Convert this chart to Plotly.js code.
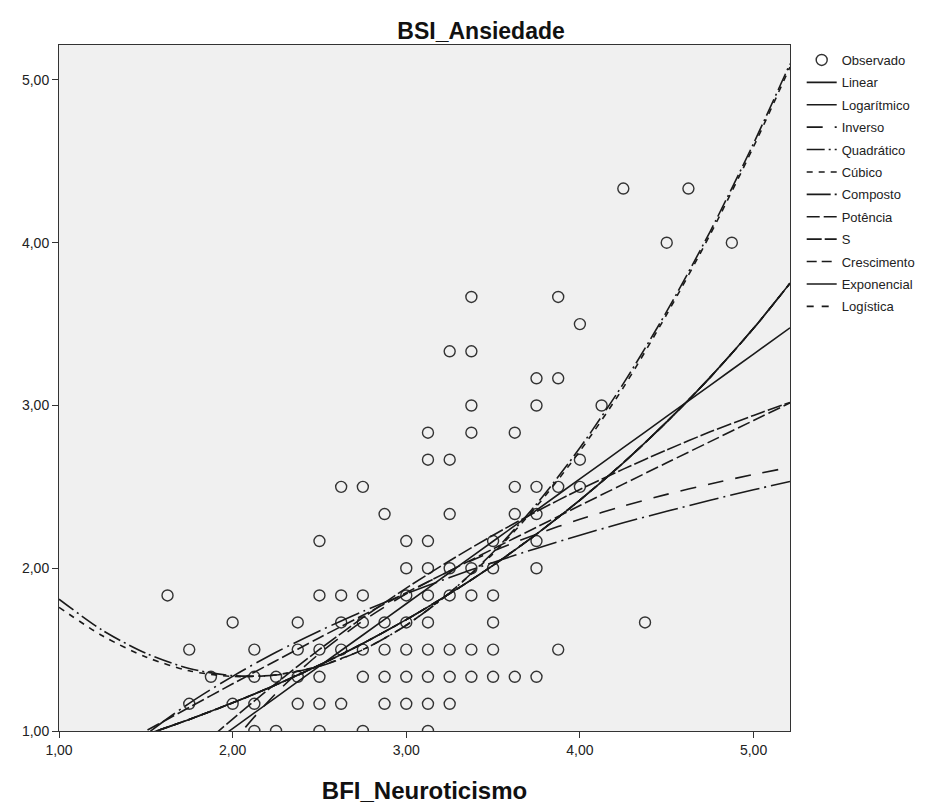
<!DOCTYPE html>
<html>
<head>
<meta charset="utf-8">
<script src="https://cdn.plot.ly/plotly-3.0.1.min.js"></script>
<style>html,body{margin:0;padding:0;background:#fff;}#chart{width:947px;height:807px;}</style>
</head>
<body>
<div id="chart"></div>
<script>
// Observed points: BFI_Neuroticismo (x) vs BSI_Ansiedade (y)
const obsX = [
  1.625,
  1.75, 1.75,
  1.875,
  2.0, 2.0,
  2.125, 2.125, 2.125, 2.125,
  2.25, 2.25,
  2.375, 2.375, 2.375, 2.375,
  2.5, 2.5, 2.5, 2.5, 2.5, 2.5,
  2.625, 2.625, 2.625, 2.625, 2.625,
  2.75, 2.75, 2.75, 2.75, 2.75, 2.75,
  2.875, 2.875, 2.875, 2.875, 2.875,
  3.0, 3.0, 3.0, 3.0, 3.0, 3.0, 3.0,
  3.125, 3.125, 3.125, 3.125, 3.125, 3.125, 3.125, 3.125, 3.125, 3.125,
  3.25, 3.25, 3.25, 3.25, 3.25, 3.25, 3.25, 3.25,
  3.375, 3.375, 3.375, 3.375, 3.375, 3.375, 3.375, 3.375,
  3.5, 3.5, 3.5, 3.5, 3.5, 3.5,
  3.625, 3.625, 3.625, 3.625,
  3.75, 3.75, 3.75, 3.75, 3.75, 3.75, 3.75,
  3.875, 3.875, 3.875, 3.875,
  4.0, 4.0, 4.0,
  4.125, 4.25, 4.375, 4.5, 4.625, 4.875
];
const obsY = [
  1.833,
  1.5, 1.167,
  1.333,
  1.667, 1.167,
  1.5, 1.333, 1.167, 1.0,
  1.333, 1.0,
  1.667, 1.5, 1.333, 1.167,
  2.167, 1.833, 1.5, 1.333, 1.167, 1.0,
  2.5, 1.833, 1.667, 1.5, 1.167,
  2.5, 1.833, 1.667, 1.5, 1.333, 1.0,
  2.333, 1.667, 1.5, 1.333, 1.167,
  2.167, 2.0, 1.833, 1.667, 1.5, 1.333, 1.167,
  2.833, 2.667, 2.167, 2.0, 1.833, 1.667, 1.5, 1.333, 1.167, 1.0,
  3.333, 2.667, 2.333, 2.0, 1.833, 1.5, 1.333, 1.167,
  3.667, 3.333, 3.0, 2.833, 2.0, 1.833, 1.5, 1.333,
  2.167, 2.0, 1.833, 1.667, 1.5, 1.333,
  2.833, 2.5, 2.333, 1.333,
  3.167, 3.0, 2.5, 2.333, 2.167, 2.0, 1.333,
  3.667, 3.167, 2.5, 1.5,
  3.5, 2.667, 2.5,
  3.0, 4.333, 1.667, 4.0, 4.333, 4.0
];

const fitX = [1.0, 1.25, 1.5, 1.75, 2.0, 2.25, 2.5, 2.75, 3.0, 3.25, 3.5, 3.75, 4.0, 4.25, 4.5, 4.75, 5.0, 5.21];
const linearY      = [0.248, 0.440, 0.632, 0.823, 1.015, 1.207, 1.399, 1.590, 1.782, 1.974, 2.166, 2.357, 2.549, 2.741, 2.933, 3.124, 3.316, 3.477];
const logY         = [0.470, 0.749, 0.977, 1.170, 1.336, 1.484, 1.615, 1.735, 1.843, 1.943, 2.036, 2.122, 2.203, 2.279, 2.350, 2.418, 2.482, 2.533];
const inverseY     = [-1.82, -0.72, 0.009, 0.533, 0.926, 1.232, 1.476, 1.676, 1.843, 1.984, 2.105, 2.209, 2.301, 2.382, 2.454, 2.518, 2.576, 2.620];
const quadY        = [1.81, 1.619, 1.478, 1.384, 1.34, 1.344, 1.398, 1.499, 1.65, 1.849, 2.098, 2.394, 2.74, 3.134, 3.578, 4.069, 4.61, 5.10];
const cubicY       = [1.76, 1.585, 1.455, 1.37, 1.335, 1.345, 1.40, 1.50, 1.65, 1.85, 2.09, 2.38, 2.72, 3.11, 3.56, 4.05, 4.59, 5.08];
const compoundY    = [0.817, 0.894, 0.978, 1.071, 1.173, 1.284, 1.405, 1.538, 1.684, 1.844, 2.018, 2.210, 2.419, 2.648, 2.899, 3.173, 3.474, 3.751];
const powerY       = [0.697, 0.850, 1.000, 1.145, 1.290, 1.432, 1.573, 1.711, 1.850, 1.984, 2.119, 2.252, 2.385, 2.517, 2.648, 2.778, 2.908, 3.016];
const sY           = [0.200, 0.391, 0.613, 0.844, 1.073, 1.293, 1.501, 1.696, 1.878, 2.046, 2.203, 2.349, 2.484, 2.609, 2.727, 2.838, 2.939, 3.019];
const growthY      = compoundY;
const exponentialY = compoundY;
const logisticY    = compoundY;

const lineColor = '#1a1a1a';
function fit(name, y, dash, w) {
  return {x: fitX, y: y, name: name, type: 'scatter', mode: 'lines',
          line: {color: lineColor, width: w || 1.6, dash: dash, shape: 'spline', smoothing: 0.8},
          legendgroup: name, hoverinfo: 'skip'};
}

const traces = [
  {x: obsX, y: obsY, name: 'Observado', type: 'scatter', mode: 'markers',
   marker: {symbol: 'circle-open', size: 11, color: '#333', line: {width: 1.4, color: '#333'}},
   legendgroup: 'Observado'},
  fit('Linear', linearY, 'solid'),
  fit('Logarítmico', logY, '30px,5px,2px,5px'),
  fit('Inverso', inverseY, '16px,12px'),
  fit('Quadrático', quadY, '18px,4px,2px,4px'),
  fit('Cúbico', cubicY, '6px,6px'),
  fit('Composto', compoundY, '24px,4px,2px,4px'),
  fit('Potência', powerY, '13px,4px'),
  fit('S', sY, '15px,3px'),
  fit('Crescimento', growthY, '10px,5px'),
  fit('Exponencial', exponentialY, 'solid'),
  fit('Logística', logisticY, '7px,8px')
];

const layout = {
  width: 947, height: 807,
  margin: {l: 59, r: 157, t: 45, b: 76, pad: 0},
  paper_bgcolor: '#ffffff',
  plot_bgcolor: '#f0f0f0',
  separators: ',.',
  font: {family: 'Liberation Sans, Arial, sans-serif', size: 13, color: '#222'},
  title: {text: '<b>BSI_Ansiedade</b>', x: 0.508, xanchor: 'center', y: 0.962, yanchor: 'middle',
          font: {family: 'Liberation Sans, Arial, sans-serif', size: 23, color: '#111'}},
  xaxis: {range: [1, 5.21], tickvals: [1, 2, 3, 4, 5], tickformat: '.2f',
          showgrid: false, zeroline: false, showline: true, mirror: true, linecolor: '#333', linewidth: 1,
          ticks: 'outside', ticklen: 6, tickcolor: '#333', tickfont: {size: 14, color: '#222'},
          title: {text: '<b>BFI_Neuroticismo</b>', standoff: 25, font: {size: 24, color: '#111'}}},
  yaxis: {range: [1, 5.215], tickvals: [1, 2, 3, 4, 5], tickformat: '.2f',
          showgrid: false, zeroline: false, showline: true, mirror: true, linecolor: '#333', linewidth: 1,
          ticks: 'outside', ticklen: 6, tickcolor: '#333', tickfont: {size: 14, color: '#222'}},
  showlegend: true,
  legend: {x: 1.016, xanchor: 'left', y: 1.0, yanchor: 'top', bgcolor: 'rgba(0,0,0,0)',
           font: {size: 13, color: '#222'}, itemwidth: 30, tracegroupgap: 2.5, traceorder: 'grouped'}
};

Plotly.newPlot('chart', traces, layout, {displayModeBar: false, staticPlot: true});
</script>
</body>
</html>
